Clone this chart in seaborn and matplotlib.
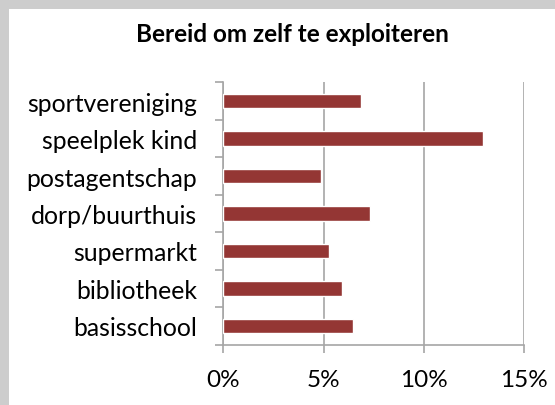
import numpy as np
import pandas as pd
import matplotlib
matplotlib.use("Agg")
import matplotlib.pyplot as plt
import seaborn as sns
from matplotlib.patches import Rectangle
from matplotlib.ticker import FuncFormatter

# data (top to bottom)
categories = ['sportvereniging', 'speelplek kind', 'postagentschap',
              'dorp/buurthuis', 'supermarkt', 'bibliotheek', 'basisschool']
shares = [0.0686, 0.1294, 0.0486, 0.0732, 0.0527, 0.0592, 0.0649]
x_ticks = [0, 0.05, 0.10, 0.15]
title = 'Bereid om zelf te exploiteren'

bar_color = '#943634'
grid_color = '#a6a6a6'

sns.set_theme(style='white')
plt.rcParams['font.family'] = ['Lato', 'DejaVu Sans']

df = pd.DataFrame({'categorie': categories, 'aandeel': shares})

fig = plt.figure(figsize=(5.55, 4.06), dpi=100, facecolor='#cdcdcd')
# white panel the chart sits on
fig.patches.append(Rectangle((9 / 555, 0), 1, 1 - 10 / 406, transform=fig.transFigure,
                             facecolor='white', edgecolor='none', zorder=-10))

ax = fig.add_axes([223.3 / 555, 1 - 345.7 / 406, (524 - 223.3) / 555, (345.7 - 83.3) / 406])
ax.set_facecolor('none')

sns.barplot(data=df, x='aandeel', y='categorie', order=categories, orient='h',
            color=bar_color, saturation=1, width=0.38, ax=ax, zorder=3)

ax.set_xlim(0, 0.15)
ax.set_ylim(len(categories) - 0.5, -0.5)
ax.set_xticks(x_ticks)
ax.xaxis.set_major_formatter(FuncFormatter(lambda v, _: f'{v * 100:.0f}%'))
ax.grid(True, axis='x', color=grid_color, linewidth=1.2, zorder=0)
ax.grid(False, axis='y')

# category ticks sit between the bars
ax.set_yticks(np.arange(len(categories) + 1) - 0.5, minor=True)
ax.tick_params(axis='y', which='minor', length=5.8, width=1.2, color=grid_color, left=True)
ax.tick_params(axis='y', which='major', length=0, pad=18.6, labelsize=17.8, labelcolor='black')
ax.tick_params(axis='x', which='major', length=5.8, width=1.2, color=grid_color, bottom=True,
               pad=11.5, labelsize=17.5, labelcolor='black')

ax.set_xlabel('')
ax.set_ylabel('')
for side in ['top', 'right']:
    ax.spines[side].set_visible(False)
for side in ['left', 'bottom']:
    ax.spines[side].set_color(grid_color)
    ax.spines[side].set_linewidth(1.2)

fig.text(292 / 555, 1 - 35 / 406, title, ha='center', va='center',
         fontsize=17.5, fontweight='bold', color='black')

fig.savefig('out.png', dpi=100, facecolor=fig.get_facecolor())
